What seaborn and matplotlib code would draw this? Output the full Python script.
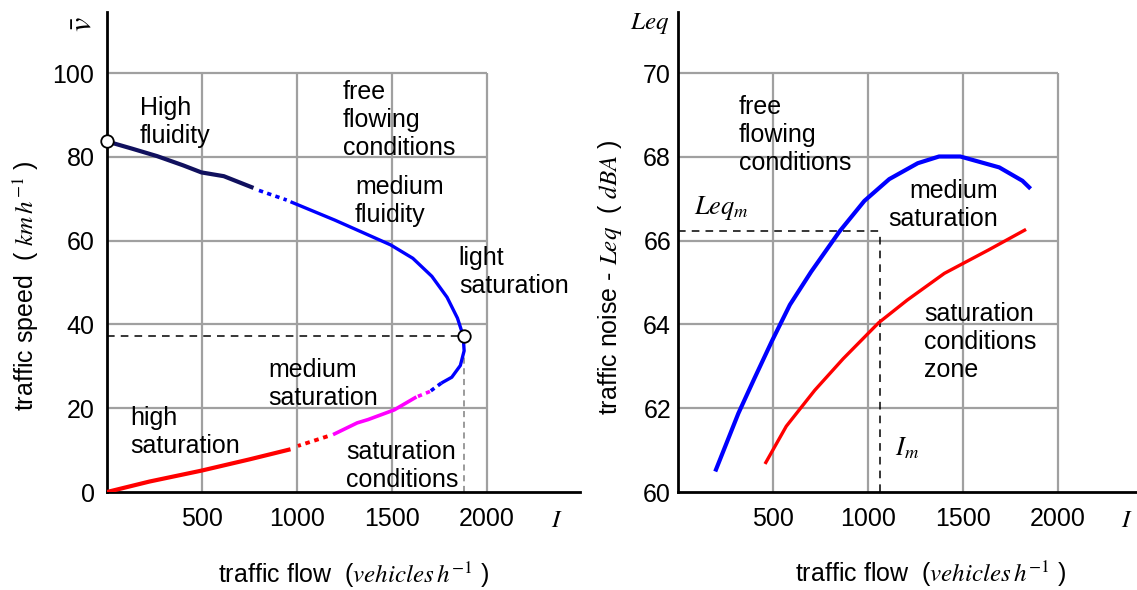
import matplotlib
matplotlib.use('Agg')
import matplotlib.pyplot as plt
import seaborn as sns
import pandas as pd

# ---- left panel: speed / flow (pieces of the same curve)
navy_q = [0, 130, 263, 400, 497, 615, 771]
navy_v = [83.7, 82.0, 80.2, 78.0, 76.3, 75.4, 72.6]
blue_dot1_q = [800, 946]
blue_dot1_v = [72.0, 69.7]
blue_q = [966, 1200, 1493, 1610, 1710, 1790, 1845, 1875, 1880, 1860, 1815, 1760]
blue_v = [69.3, 64.9, 59.0, 55.8, 51.5, 46.5, 41.5, 37.3, 33.7, 30.2, 27.4, 26.0]
blue_dot2_q = [1760, 1700]
blue_dot2_v = [26.0, 24.0]
mag_dot_q = [1700, 1630]
mag_dot_v = [24.0, 22.7]
mag_q = [1629, 1512, 1375, 1317, 1190]
mag_v = [22.7, 19.6, 17.3, 16.5, 13.7]
red_dot_q = [1161, 1005]
red_dot_v = [13.3, 11.0]
red_q = [966, 751, 497, 224, 0]
red_v = [10.2, 7.8, 5.1, 2.5, 0]
v_free = 83.7
q_max, v_crit = 1880, 37.3

# ---- right panel: noise / flow
noise_free_q = [196, 318, 402, 495, 589, 701, 850, 981, 1112, 1262, 1374, 1486, 1691, 1813, 1856]
noise_free_l = [60.49, 61.88, 62.71, 63.61, 64.47, 65.26, 66.22, 66.95, 67.47, 67.85, 68.01, 68.01, 67.75, 67.43, 67.24]
noise_sat_q = [458, 570, 720, 869, 1056, 1206, 1402, 1635, 1832]
noise_sat_l = [60.67, 61.57, 62.43, 63.18, 64.04, 64.58, 65.22, 65.78, 66.27]
leq_m, q_m = 66.24, 1062

flow_ticks = [500, 1000, 1500, 2000]
flow_labels = ['500', '1000', '1500', '2000']
speed_ticks = [0, 20, 40, 60, 80, 100]
noise_ticks = [60, 62, 64, 66, 68, 70]

sns.set_style('white')
plt.rcParams['font.family'] = ['Liberation Sans', 'DejaVu Sans']
plt.rcParams['mathtext.fontset'] = 'stix'
plt.rcParams['text.color'] = 'black'
plt.rcParams['xtick.color'] = 'black'
plt.rcParams['ytick.color'] = 'black'

W, H = 1137, 590
fig = plt.figure(figsize=(W / 100, H / 100), dpi=100)
ax1 = fig.add_axes([107 / W, 98 / H, 473 / W, 480 / H])
ax2 = fig.add_axes([678 / W, 98 / H, 459 / W, 480 / H])


def seg(ax, q, v, color, lw, dotted=False):
    df = pd.DataFrame({'q': q, 'v': v})
    sns.lineplot(data=df, x='q', y='v', sort=False, estimator=None, ax=ax,
                 color=color, lw=lw, linestyle=(0, (1.2, 1.2)) if dotted else '-',
                 solid_capstyle='butt', zorder=3)


def setup(ax, xmax, ymin, ymax, yticks, ypad):
    ax.set_xlim(0, xmax)
    ax.set_ylim(ymin, ymax)
    for s in ['top', 'right']:
        ax.spines[s].set_visible(False)
    for s in ['left', 'bottom']:
        ax.spines[s].set_linewidth(2)
        ax.spines[s].set_color('black')
    ax.set_xticks(flow_ticks)
    ax.set_xticklabels(flow_labels)
    ax.set_yticks(yticks)
    ax.tick_params(axis='x', length=0, labelsize=18, pad=11, labelcolor='black')
    ax.tick_params(axis='y', length=0, labelsize=18, pad=ypad, labelcolor='black')
    ax.vlines(flow_ticks, ymin, yticks[-1], color='#a0a0a0', lw=1.6, zorder=0)
    ax.hlines(yticks[1:], 0, flow_ticks[-1], color='#a0a0a0', lw=1.6, zorder=0)
    ax.set_xlabel('')
    ax.set_ylabel('')


seg(ax1, navy_q, navy_v, '#10105e', 3.0)
seg(ax1, blue_dot1_q, blue_dot1_v, '#0000ff', 2.6, True)
seg(ax1, blue_q, blue_v, '#0000ff', 2.4)
seg(ax1, blue_dot2_q, blue_dot2_v, '#0000ff', 2.6, True)
seg(ax1, mag_dot_q, mag_dot_v, '#ff00ff', 2.6, True)
seg(ax1, mag_q, mag_v, '#ff00ff', 2.6)
seg(ax1, red_dot_q, red_dot_v, '#ff0000', 2.8, True)
seg(ax1, red_q, red_v, '#ff0000', 3.0)
setup(ax1, 2490, 0, 114.6, speed_ticks, 9)
ax1.hlines(v_crit, 0, q_max, color='black', lw=1.1, linestyles=(0, (5, 4)), zorder=2)
ax1.vlines(q_max, 0, v_crit, color='#808080', lw=1.1, linestyles=(0, (4, 3)), zorder=2)
ax1.plot([0, q_max], [v_free, v_crit], ls='none', marker='o', ms=9, mfc='white',
         mec='black', mew=1.3, clip_on=False, zorder=5)

fs = 18
ax1.text(174, 88.3, 'High\nfluidity', fontsize=fs, va='center')
ax1.text(1242, 88.8, 'free\nflowing\nconditions', fontsize=fs, va='center')
ax1.text(1305, 69.5, 'medium\nfluidity', fontsize=fs, va='center')
ax1.text(1852, 52.5, 'light\nsaturation', fontsize=fs, va='center')
ax1.text(848, 25.8, 'medium\nsaturation', fontsize=fs, va='center')
ax1.text(121, 14.3, 'high\nsaturation', fontsize=fs, va='center')
ax1.text(1258, 6.2, 'saturation\nconditions', fontsize=fs, va='center')

seg(ax2, noise_free_q, noise_free_l, '#0000ff', 3.0)
seg(ax2, noise_sat_q, noise_sat_l, '#ff0000', 2.4)
setup(ax2, 2416, 60, 71.46, noise_ticks, 5)
ax2.hlines(leq_m, 0, q_m, color='black', lw=1.1, linestyles=(0, (5, 4)), zorder=2)
ax2.vlines(q_m, 60, leq_m, color='black', lw=1.1, linestyles=(0, (5, 4)), zorder=2)

ax2.text(321, 68.52, 'free\nflowing\nconditions', fontsize=fs, va='center')
ax2.text(1684, 66.85, 'medium\nsaturation', fontsize=fs, va='center', ha='right',
         multialignment='right')
ax2.text(1295, 63.58, 'saturation\nconditions\nzone', fontsize=fs, va='center')
ax2.text(84, 66.78, '$Leq_m$', fontsize=19, va='center')
ax2.text(1142, 61.05, '$I_m$', fontsize=19, va='center')


def ftext(x, y, s, **kw):
    fig.text(x / W, 1 - y / H, s, **kw)


ftext(557, 520, '$I$', fontsize=18, ha='center', va='center')
ftext(1127, 520, '$I$', fontsize=18, ha='center', va='center')
ftext(83, 24, r'$\bar{v}$', fontsize=23, ha='center', va='center', rotation=90)
ftext(650, 24, '$Leq$', fontsize=18, ha='center', va='center')
ftext(26, 286, 'traffic speed  ( $km\\,h^{-1}$ )', fontsize=18, ha='center',
      va='center', rotation=90)
ftext(610, 277, 'traffic noise - $Leq$  ( $dBA$ )', fontsize=18, ha='center',
      va='center', rotation=90)
ftext(354, 583, 'traffic flow  ($vehicles\\,h^{-1}$ )', fontsize=18, ha='center',
      va='baseline')
ftext(931, 582, 'traffic flow  ($vehicles\\,h^{-1}$ )', fontsize=18, ha='center',
      va='baseline')

fig.savefig('out.png', dpi=100)
